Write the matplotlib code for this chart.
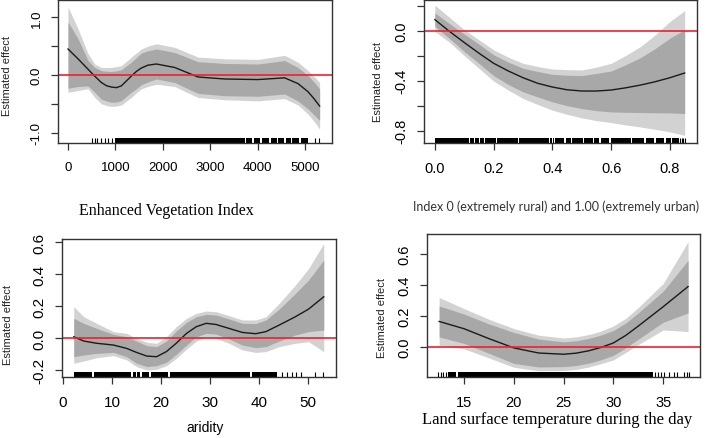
import numpy as np
import matplotlib
matplotlib.use("Agg")
import matplotlib.pyplot as plt

# ---- panel 1: Enhanced Vegetation Index
evi_x = [0, 211, 422, 563, 703, 808, 914, 1020, 1125, 1336, 1441, 1547, 1688, 1863,
         2250, 2742, 3305, 4008, 4571, 4852, 4958, 5063, 5189, 5309]
evi_fit = [0.45, 0.28, 0.10, -0.02, -0.13, -0.185, -0.21, -0.22, -0.19, -0.02, 0.06, 0.12,
           0.17, 0.19, 0.13, -0.035, -0.07, -0.08, -0.05, -0.15, -0.22, -0.29, -0.41, -0.54]
evi_dark_hi = [0.92, 0.63, 0.25, 0.13, 0.075, 0.065, 0.06, 0.07, 0.09, 0.22, 0.30, 0.38,
               0.42, 0.45, 0.39, 0.23, 0.20, 0.19, 0.25, 0.13, 0.06, -0.01, -0.12, -0.24]
evi_dark_lo = [-0.23, -0.20, -0.19, -0.30, -0.42, -0.45, -0.475, -0.47, -0.445, -0.30, -0.24,
               -0.17, -0.12, -0.07, -0.13, -0.32, -0.36, -0.37, -0.33, -0.45, -0.52, -0.59,
               -0.69, -0.79]
evi_light_hi = [1.18, 0.80, 0.37, 0.19, 0.13, 0.13, 0.13, 0.145, 0.16, 0.31, 0.38, 0.45,
                0.50, 0.54, 0.48, 0.31, 0.28, 0.27, 0.34, 0.22, 0.15, 0.075, -0.02, -0.13]
evi_light_lo = [-0.30, -0.27, -0.24, -0.39, -0.50, -0.53, -0.545, -0.54, -0.52, -0.39, -0.31,
                -0.24, -0.20, -0.16, -0.20, -0.39, -0.43, -0.45, -0.41, -0.52, -0.60, -0.68,
                -0.80, -0.94]
evi_rug = [510, 560, 620, 700, 780, 850, 930, 5210, 5300]
evi_rug_spans = [(990, 3730), (3760, 3890), (3920, 4060), (4090, 4250), (4280, 4400),
                 (4430, 4560), (4590, 4700), (4730, 4880), (4910, 5060)]

# ---- panel 2: urbanity index
urb_x = [0.0, 0.05, 0.1, 0.15, 0.2, 0.25, 0.3, 0.35, 0.4, 0.45, 0.5, 0.55,
         0.6, 0.65, 0.7, 0.75, 0.8, 0.85]
urb_fit = [0.092, -0.003, -0.092, -0.178, -0.259, -0.321, -0.375, -0.42, -0.45, -0.472,
           -0.482, -0.482, -0.474, -0.456, -0.434, -0.407, -0.375, -0.337]
urb_dark_hi = [0.146, 0.06, -0.024, -0.105, -0.191, -0.25, -0.299, -0.325, -0.348, -0.355,
               -0.358, -0.34, -0.321, -0.27, -0.213, -0.14, -0.057, 0.011]
urb_dark_lo = [0.038, -0.06, -0.164, -0.26, -0.358, -0.43, -0.488, -0.53, -0.569, -0.60,
               -0.623, -0.64, -0.65, -0.653, -0.655, -0.657, -0.658, -0.663]
urb_light_hi = [0.208, 0.11, 0.011, -0.07, -0.151, -0.21, -0.259, -0.285, -0.305, -0.31,
                -0.313, -0.29, -0.259, -0.195, -0.124, -0.03, 0.078, 0.164]
urb_light_lo = [-0.003, -0.09, -0.197, -0.30, -0.402, -0.475, -0.542, -0.59, -0.636, -0.67,
                -0.698, -0.72, -0.736, -0.755, -0.771, -0.79, -0.811, -0.838]
urb_rug = [0.835, 0.84, 0.845, 0.851]
urb_rug_spans = [(0.0, 0.117), (0.121, 0.134), (0.138, 0.151), (0.155, 0.168), (0.172, 0.208),
                 (0.212, 0.282), (0.286, 0.389), (0.393, 0.398), (0.402, 0.406), (0.41, 0.441),
                 (0.445, 0.463), (0.467, 0.503), (0.507, 0.537), (0.541, 0.56), (0.564, 0.594),
                 (0.598, 0.668), (0.672, 0.713), (0.717, 0.747), (0.751, 0.781), (0.785, 0.804),
                 (0.808, 0.83)]

# ---- panel 3: aridity
ar_x = [2.2, 4.25, 6.9, 10.3, 13.0, 15.0, 17.1, 19.1, 21.1, 23.1, 25.2, 27.2, 29.2, 31.2,
        33.9, 36.6, 39.3, 41.4, 44.1, 47.4, 50.1, 53.2]
ar_fit = [0.008, -0.019, -0.033, -0.044, -0.065, -0.09, -0.113, -0.117, -0.085, -0.033,
          0.029, 0.071, 0.092, 0.085, 0.06, 0.035, 0.027, 0.04, 0.081, 0.133, 0.181, 0.258]
ar_dark_hi = [0.123, 0.092, 0.06, 0.023, 0.008, -0.019, -0.048, -0.054, -0.019, 0.044, 0.098,
              0.133, 0.148, 0.144, 0.119, 0.092, 0.09, 0.113, 0.181, 0.279, 0.363, 0.488]
ar_dark_lo = [-0.117, -0.106, -0.096, -0.09, -0.117, -0.158, -0.179, -0.173, -0.152, -0.102,
              -0.044, 0.008, 0.029, 0.025, -0.006, -0.044, -0.06, -0.054, -0.019, 0.019, 0.04,
              0.05]
ar_light_hi = [0.196, 0.133, 0.092, 0.04, 0.029, -0.002, -0.027, -0.033, 0.008, 0.071, 0.123,
               0.154, 0.169, 0.165, 0.14, 0.113, 0.113, 0.133, 0.217, 0.331, 0.435, 0.592]
ar_light_lo = [-0.158, -0.144, -0.123, -0.11, -0.137, -0.179, -0.20, -0.196, -0.173, -0.127,
               -0.069, -0.019, 0.008, -0.002, -0.033, -0.075, -0.09, -0.085, -0.054, -0.033,
               -0.023, -0.085]
ar_rug = [44.7, 45.7, 46.7, 47.6, 48.5, 51.4, 53.1]
ar_rug_spans = [(2.2, 6.0), (6.4, 13.8), (14.2, 14.8), (15.2, 15.8), (16.2, 17.5),
                (17.9, 21.5), (21.9, 38.1), (38.5, 43.6)]

# ---- panel 4: land surface temperature
lst_x = [12.5, 15, 17.5, 20, 22.5, 25, 26.25, 27.5, 28.75, 30, 31.25, 32.5, 35, 37.5]
lst_fit = [0.165, 0.118, 0.054, -0.006, -0.039, -0.047, -0.04, -0.025, -0.003, 0.026,
           0.075, 0.135, 0.26, 0.39]
lst_dark_hi = [0.265, 0.213, 0.149, 0.094, 0.051, 0.033, 0.04, 0.055, 0.077, 0.106, 0.155,
               0.22, 0.36, 0.56]
lst_dark_lo = [0.065, 0.023, -0.041, -0.106, -0.129, -0.127, -0.12, -0.105, -0.083, -0.054,
               -0.005, 0.05, 0.16, 0.22]
lst_light_hi = [0.32, 0.248, 0.179, 0.119, 0.076, 0.058, 0.065, 0.08, 0.102, 0.136, 0.185,
                0.255, 0.41, 0.68]
lst_light_lo = [0.01, -0.012, -0.071, -0.131, -0.154, -0.152, -0.145, -0.13, -0.108, -0.084,
                -0.035, 0.015, 0.11, 0.10]
lst_rug = [12.42, 12.7, 12.92, 13.15, 34.2, 34.5, 34.8, 35.1, 35.6, 36.1, 36.4, 37.1, 37.4, 37.6]
lst_rug_spans = [(13.4, 14.2), (14.4, 34.0)]

W, H = 709, 439
fig = plt.figure(figsize=(W / 100, H / 100), dpi=100)
SANS = ["Liberation Sans", "DejaVu Sans"]
SERIF = ["Liberation Serif", "DejaVu Serif"]


def box(l, t, r, b):
    return [l / W, 1 - b / H, (r - l) / W, (b - t) / H]


def panel(rect, x, fit, dhi, dlo, lhi, llo, rug, spans, xlim, ylim, xt, yt, ylab, fs):
    ax = fig.add_axes(box(*rect))
    ax.fill_between(x, llo, lhi, color="#d2d2d2", lw=0)
    ax.fill_between(x, dlo, dhi, color="#a8a8a8", lw=0)
    ax.plot(x, fit, color="#1a1a1a", lw=1.0)
    ax.axhline(0, color="#f02030", lw=1.2)
    trans = ax.get_xaxis_transform()
    ax.broken_barh([(a, b - a) for a, b in spans], (0, 0.035), color="black",
                   transform=trans, lw=0)
    ax.vlines(rug, 0, 0.035, color="black", lw=0.8, transform=trans)
    ax.set_xlim(xlim)
    ax.set_ylim(ylim)
    ax.set_xticks(xt)
    ax.set_xticklabels([f"{v:g}" if isinstance(v, int) else f"{v:.1f}" for v in xt],
                       family=SANS, fontsize=fs)
    ax.set_yticks(yt)
    ax.set_yticklabels(ylab, rotation=90, va="center", family=SANS, fontsize=fs)
    ax.tick_params(direction="out", length=5, width=0.9, color="#333333")
    ax.tick_params(axis="x", pad=8)
    ax.tick_params(axis="y", pad=6)
    for s in ax.spines.values():
        s.set_color("#333333")
        s.set_linewidth(1.0)
    return ax


panel((58, 1, 332, 144), evi_x, evi_fit, evi_dark_hi, evi_dark_lo, evi_light_hi,
      evi_light_lo, evi_rug, evi_rug_spans,
      (-211, 5570), (-1.18, 1.30), [0, 1000, 2000, 3000, 4000, 5000],
      [-1.0, -0.5, 0.0, 0.5, 1.0], ["-1.0", "", "0.0", "", "1.0"], 9.5)
panel((424, 1, 697, 144), urb_x, urb_fit, urb_dark_hi, urb_dark_lo, urb_light_hi,
      urb_light_lo, urb_rug, urb_rug_spans,
      (-0.037, 0.892), (-0.90, 0.25), [0.0, 0.2, 0.4, 0.6, 0.8],
      [-0.8, -0.6, -0.4, -0.2, 0.0, 0.2], ["-0.8", "", "-0.4", "", "0.0", ""], 10.5)
panel((62, 240, 336, 378), ar_x, ar_fit, ar_dark_hi, ar_dark_lo, ar_light_hi,
      ar_light_lo, ar_rug, ar_rug_spans,
      (-0.2, 55.7), (-0.244, 0.62), [0, 10, 20, 30, 40, 50],
      [-0.2, 0.0, 0.2, 0.4, 0.6], ["-0.2", "0.0", "0.2", "0.4", "0.6"], 11)
panel((427, 235, 700, 378), lst_x, lst_fit, lst_dark_hi, lst_dark_lo, lst_light_hi,
      lst_light_lo, lst_rug, lst_rug_spans,
      (11.28, 38.7), (-0.194, 0.73), [15, 20, 25, 30, 35],
      [0.0, 0.2, 0.4, 0.6], ["0.0", "0.2", "0.4", "0.6"], 10.5)


def ftext(x, y, s, **kw):
    fig.text(x / W, 1 - y / H, s, ha="center", va="center", **kw)


for x, y in [(7, 76), (378, 82), (8, 325), (382, 318)]:
    ftext(x, y, "Estimated effect", rotation=90, family=SANS, fontsize=8, color="#222222")

ftext(166, 211, "Enhanced Vegetation Index", family=SERIF, fontsize=11.5)
ftext(556, 207, "Index 0 (extremely rural) and 1.00 (extremely urban)",
      family=["Lato", "DejaVu Sans"], fontsize=9, color="#333333")
ftext(205, 428, "aridity", family=SANS, fontsize=10)
ftext(557, 420, "Land surface temperature during the day", family=SERIF, fontsize=12)

fig.savefig("out.png", dpi=100)
